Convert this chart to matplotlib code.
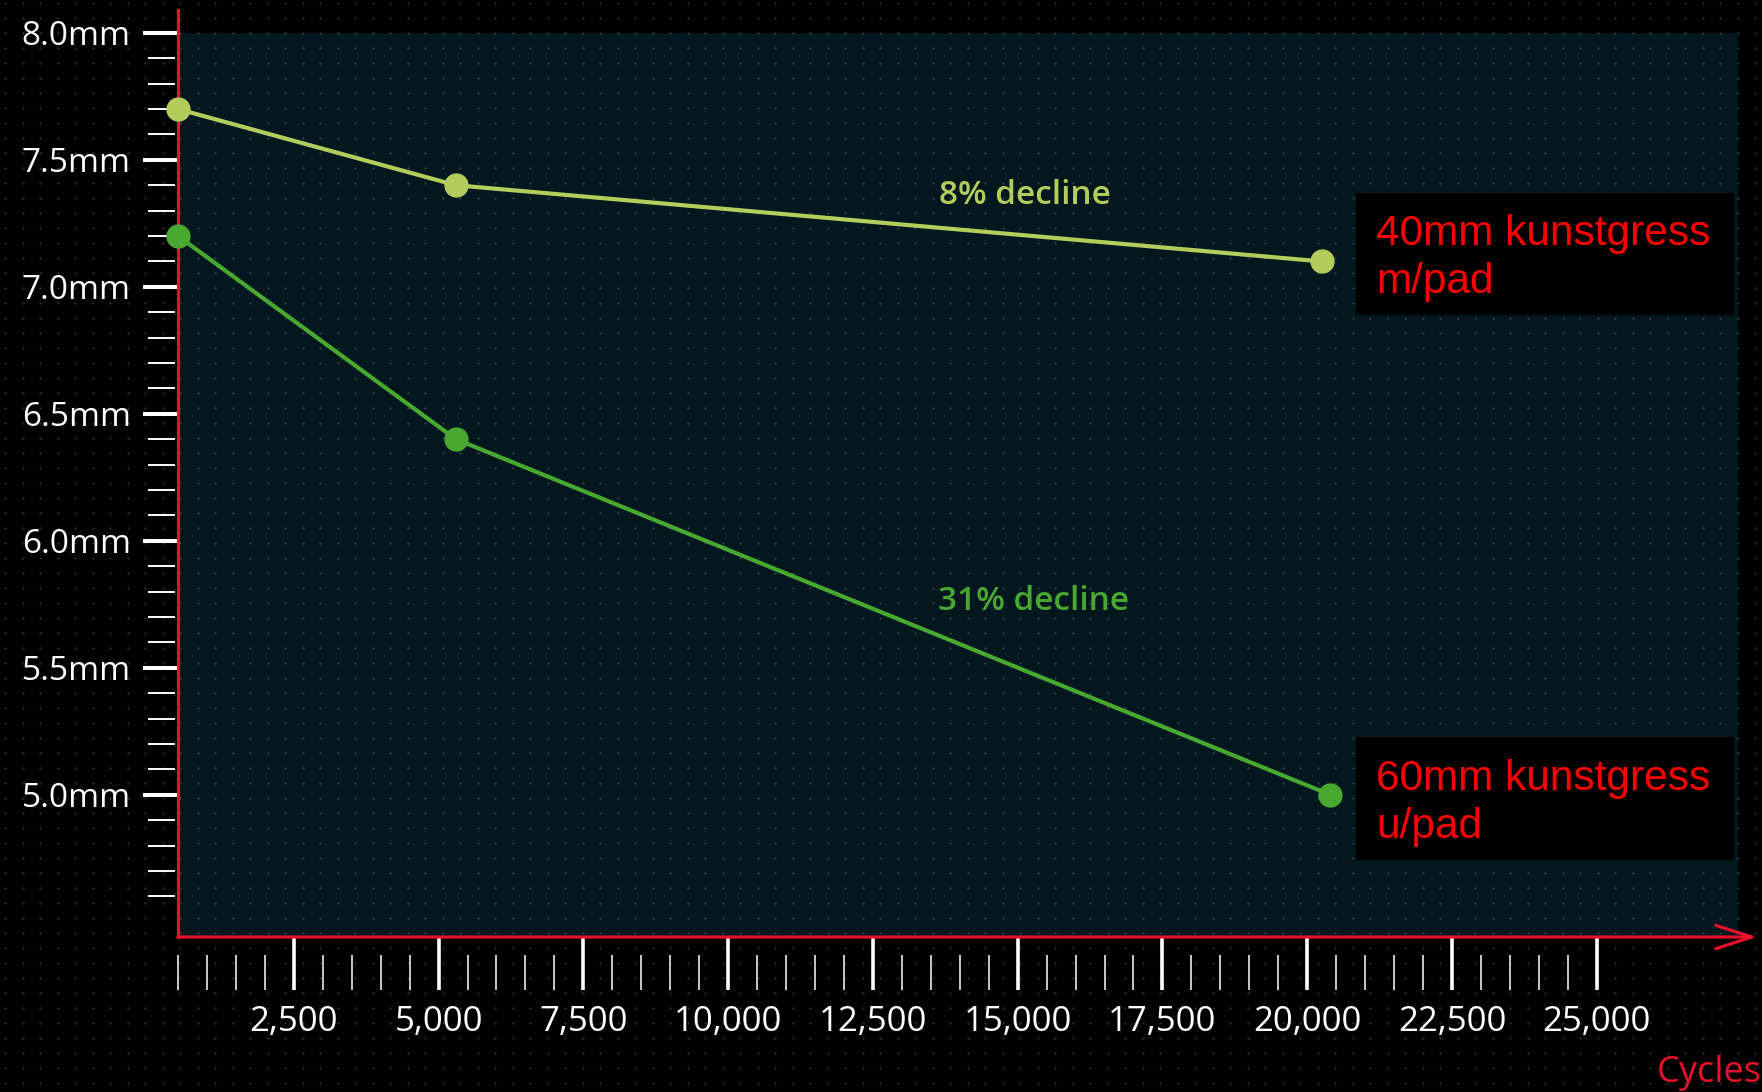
import numpy as np
import matplotlib.pyplot as plt
from matplotlib.patches import Rectangle

# wear data (pile height vs. cycles)
cycles_40 = [500, 5300, 20250]
thickness_40 = [7.7, 7.4, 7.1]
cycles_60 = [500, 5300, 20400]
thickness_60 = [7.2, 6.4, 5.0]

major_x = [2500, 5000, 7500, 10000, 12500, 15000, 17500, 20000, 22500, 25000]
x_labels = ["2,500", "5,000", "7,500", "10,000", "12,500", "15,000",
            "17,500", "20,000", "22,500", "25,000"]
minor_x = [v for v in range(500, 25001, 500) if v % 2500]

major_y = [5.0, 5.5, 6.0, 6.5, 7.0, 7.5, 8.0]
y_labels = ["5.0mm", "5.5mm", "6.0mm", "6.5mm", "7.0mm", "7.5mm", "8.0mm"]
minor_y = [round(4.6 + 0.1 * i, 1) for i in range(34)]
minor_y = [v for v in minor_y if round(v * 2, 3) % 1]

label_40 = "40mm kunstgress\nm/pad"
label_60 = "60mm kunstgress\nu/pad"
decline_40 = "8% decline"
decline_60 = "31% decline"

light = "#b4cc5c"
green = "#48a832"
red = "#e8102a"

plt.rcParams['font.family'] = ['Open Sans', 'DejaVu Sans']

W, H = 1762, 1092
fig = plt.figure(figsize=(W / 100, H / 100), dpi=100)
fig.patch.set_facecolor('black')

bg = fig.add_axes([0, 0, 1, 1], zorder=0)
bg.set_xlim(0, W)
bg.set_ylim(H, 0)
bg.axis('off')

L, R, B, T = 178, 1738, 937, 10
ax = fig.add_axes([L / W, 1 - B / H, (R - L) / W, (B - T) / H], zorder=1)
ax.patch.set_alpha(0)
ax.set_xlim(500, 27440)
ax.set_ylim(4.44, 8.09)

# dark plot panel + dotted texture
bg.add_patch(Rectangle((500, 4.44), 27440 - 500, 8.0 - 4.44,
                       transform=ax.transData, facecolor="#03171f",
                       edgecolor='none', zorder=0))
gx, gy = np.meshgrid(np.arange(5, W, 17.5), np.arange(3.3, H, 15))
bg.plot(gx.ravel(), gy.ravel(), 'o', ms=1.5, mec='none', mfc='white',
        alpha=0.22, zorder=1)

for s in ['top', 'right', 'bottom']:
    ax.spines[s].set_visible(False)
ax.spines['left'].set_color(red)
ax.spines['left'].set_linewidth(2.3)
ax.annotate("", xy=(1.0122, 0), xytext=(0, 0), xycoords='axes fraction',
            arrowprops=dict(arrowstyle='->,head_length=1.3,head_width=0.42',
                            color=red, lw=2.3, shrinkA=0, shrinkB=0,
                            mutation_scale=20),
            annotation_clip=False)

ax.set_xticks(major_x, x_labels)
ax.set_yticks(major_y, y_labels)
ax.tick_params(axis='x', direction='out', length=38, width=2.6, color='white',
               labelcolor='white', labelsize=25, pad=11)
ax.tick_params(axis='y', direction='out', length=25, width=2.9, color='white',
               labelcolor='white', labelsize=24, pad=9)
ax.vlines(minor_x, -0.0572, -0.0194, transform=ax.get_xaxis_transform(),
          colors='#c8c8c8', linewidth=1.4, clip_on=False)
ax.hlines(minor_y, -0.0192, -0.002, transform=ax.get_yaxis_transform(),
          colors='white', linewidth=1.4, clip_on=False)

ax.plot(cycles_40, thickness_40, color=light, lw=3, marker='o', ms=16.5,
        zorder=3, clip_on=False)
ax.plot(cycles_60, thickness_60, color=green, lw=3, marker='o', ms=16.5,
        zorder=3, clip_on=False)

ax.text(15130, 7.36, decline_40, color=light, fontsize=24, fontweight='semibold',
        ha='center', va='center')
ax.text(15280, 5.76, decline_60, color=green, fontsize=24, fontweight='semibold',
        ha='center', va='center')

# red legend boxes
for y0, h in [(0.671, 0.1316), (0.0831, 0.1327)]:
    ax.add_patch(Rectangle((0.7551, y0), 0.2423, h, transform=ax.transAxes,
                           facecolor='black', edgecolor='none', zorder=4))
ax.text(0.768, 0.7325, label_40, transform=ax.transAxes, color='#ff0000',
        family='Liberation Sans', fontsize=30.5, linespacing=1.25,
        ha='left', va='center', zorder=5)
ax.text(0.768, 0.1446, label_60, transform=ax.transAxes, color='#ff0000',
        family='Liberation Sans', fontsize=30.5, linespacing=1.25,
        ha='left', va='center', zorder=5)

fig.text(1657 / W, 1 - 1073 / H, "Cycles", color=red, fontsize=26,
         ha='left', va='center')

fig.savefig('out.png', dpi=100, facecolor='black')
